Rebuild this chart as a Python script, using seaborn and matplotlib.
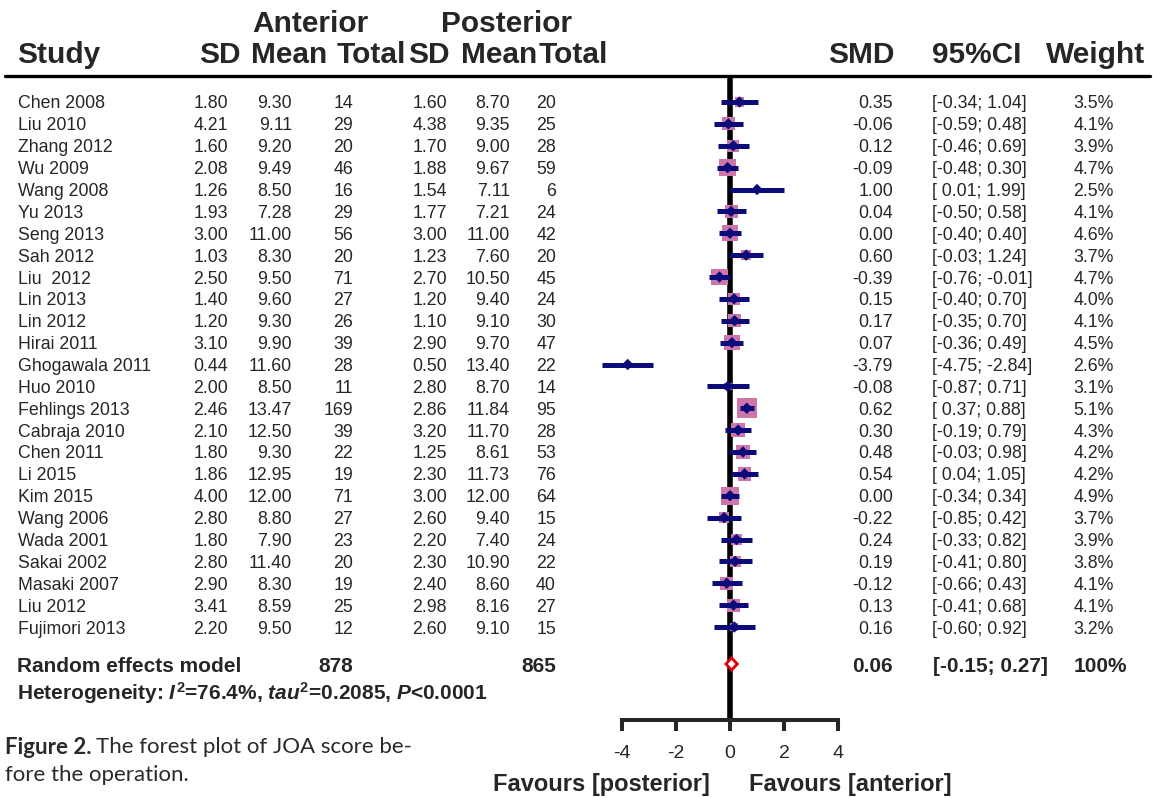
import numpy as np
import pandas as pd
import matplotlib
matplotlib.use("Agg")
import matplotlib.pyplot as plt
import matplotlib.transforms as mtransforms
import seaborn as sns

# study data
studies = ["Chen 2008", "Liu 2010", "Zhang 2012", "Wu 2009", "Wang 2008", "Yu 2013",
           "Seng 2013", "Sah 2012", "Liu  2012", "Lin 2013", "Lin 2012", "Hirai 2011",
           "Ghogawala 2011", "Huo 2010", "Fehlings 2013", "Cabraja 2010", "Chen 2011",
           "Li 2015", "Kim 2015", "Wang 2006", "Wada 2001", "Sakai 2002", "Masaki 2007",
           "Liu 2012", "Fujimori 2013"]
sd_ant = [1.80, 4.21, 1.60, 2.08, 1.26, 1.93, 3.00, 1.03, 2.50, 1.40, 1.20, 3.10, 0.44,
          2.00, 2.46, 2.10, 1.80, 1.86, 4.00, 2.80, 1.80, 2.80, 2.90, 3.41, 2.20]
mean_ant = [9.30, 9.11, 9.20, 9.49, 8.50, 7.28, 11.00, 8.30, 9.50, 9.60, 9.30, 9.90, 11.60,
            8.50, 13.47, 12.50, 9.30, 12.95, 12.00, 8.80, 7.90, 11.40, 8.30, 8.59, 9.50]
n_ant = [14, 29, 20, 46, 16, 29, 56, 20, 71, 27, 26, 39, 28, 11, 169, 39, 22, 19, 71, 27,
         23, 20, 19, 25, 12]
sd_post = [1.60, 4.38, 1.70, 1.88, 1.54, 1.77, 3.00, 1.23, 2.70, 1.20, 1.10, 2.90, 0.50,
           2.80, 2.86, 3.20, 1.25, 2.30, 3.00, 2.60, 2.20, 2.30, 2.40, 2.98, 2.60]
mean_post = [8.70, 9.35, 9.00, 9.67, 7.11, 7.21, 11.00, 7.60, 10.50, 9.40, 9.10, 9.70, 13.40,
             8.70, 11.84, 11.70, 8.61, 11.73, 12.00, 9.40, 7.40, 10.90, 8.60, 8.16, 9.10]
n_post = [20, 25, 28, 59, 6, 24, 42, 20, 45, 24, 30, 47, 22, 14, 95, 28, 53, 76, 64, 15,
          24, 22, 40, 27, 15]
smd = [0.35, -0.06, 0.12, -0.09, 1.00, 0.04, 0.00, 0.60, -0.39, 0.15, 0.17, 0.07, -3.79,
       -0.08, 0.62, 0.30, 0.48, 0.54, 0.00, -0.22, 0.24, 0.19, -0.12, 0.13, 0.16]
ci_low = [-0.34, -0.59, -0.46, -0.48, 0.01, -0.50, -0.40, -0.03, -0.76, -0.40, -0.35, -0.36,
          -4.75, -0.87, 0.37, -0.19, -0.03, 0.04, -0.34, -0.85, -0.33, -0.41, -0.66, -0.41, -0.60]
ci_high = [1.04, 0.48, 0.69, 0.30, 1.99, 0.58, 0.40, 1.24, -0.01, 0.70, 0.70, 0.49, -2.84,
           0.71, 0.88, 0.79, 0.98, 1.05, 0.34, 0.42, 0.82, 0.80, 0.43, 0.68, 0.92]
weight = [3.5, 4.1, 3.9, 4.7, 2.5, 4.1, 4.6, 3.7, 4.7, 4.0, 4.1, 4.5, 2.6, 3.1, 5.1, 4.3,
          4.2, 4.2, 4.9, 3.7, 3.9, 3.8, 4.1, 4.1, 3.2]

# pooled (random effects) result
total_ant, total_post = 878, 865
pooled_smd, pooled_low, pooled_high = 0.06, -0.15, 0.27
heterogeneity = r"Heterogeneity: $I^2$=76.4%, $tau^2$=0.2085, $P$<0.0001"
x_ticks = [-4, -2, 0, 2, 4]

df = pd.DataFrame({"study": studies, "smd": smd, "low": ci_low, "high": ci_high,
                   "weight": weight})
df["row"] = np.arange(len(df))

sns.set_style("white")
plt.rcParams["font.family"] = ["Liberation Sans", "DejaVu Sans"]
plt.rcParams["mathtext.fontset"] = "custom"
plt.rcParams["mathtext.it"] = "Liberation Sans:bold:italic"
plt.rcParams["mathtext.rm"] = "Liberation Sans:bold"
plt.rcParams["mathtext.bf"] = "Liberation Sans:bold"

W, H = 1153, 798
PX = 27.0      # pixels per SMD unit
ROW = 21.875   # pixels per study row
fig = plt.figure(figsize=(W / 100, H / 100), dpi=100)
ax = fig.add_axes([0, 0, 1, 1])
ax.set_xlim(-730 / PX, (W - 730) / PX)
ax.set_ylim((H - 102) / ROW, -102 / ROW)

def ry(px):
    return (px - 102) / ROW

axis_y = ry(720)
sum_y = ry(664)
navy = "#0B0B7A"

# zero line and header rule
ax.vlines(0, ry(78), axis_y, color="black", lw=4, zorder=1)
ax.axhline(ry(76), xmin=5 / W, xmax=1150 / W, color="black", lw=2.4)

# weighted squares, CI bars and point estimates
side_px = 20 * (df["weight"] / 5.1) ** 2
sns.scatterplot(data=df, x="smd", y="row", marker="s", s=(side_px * 0.72) ** 2,
                color="#CE76AA", edgecolor="none", legend=False, zorder=2, ax=ax)
ax.hlines(df["row"], df["low"], df["high"], color=navy, lw=3.6, zorder=3)
sns.scatterplot(data=df, x="smd", y="row", marker="D", s=34, color=navy,
                edgecolor="none", legend=False, zorder=4, ax=ax)

# pooled diamond
ax.fill([pooled_low, pooled_smd, pooled_high, pooled_smd, pooled_low],
        [sum_y, sum_y - 0.28, sum_y, sum_y + 0.28, sum_y],
        facecolor="white", edgecolor="#E00000", lw=2, zorder=5)

# x axis as the bottom spine
for s in ["left", "right", "top"]:
    ax.spines[s].set_visible(False)
ax.spines["bottom"].set_position(("data", axis_y))
ax.spines["bottom"].set_bounds(x_ticks[0], x_ticks[-1])
ax.spines["bottom"].set_linewidth(2.9)
ax.set_xticks(x_ticks)
ax.set_xticklabels([str(t) for t in x_ticks])
ax.set_yticks([])
ax.tick_params(axis="x", direction="out", length=8, width=2.9, pad=10, labelsize=14,
               bottom=True)
ax.set_xlabel("")
ax.set_ylabel("")

tr = mtransforms.blended_transform_factory(fig.transFigure, ax.transData)

def put(px, y, s, ha="left", **kw):
    ax.text(px / W, y, s, ha=ha, transform=tr, clip_on=False, **kw)

# header
hdr = dict(fontsize=21.5, fontweight="bold", va="baseline")
put(310, ry(32), "Anterior", ha="center", **hdr)
put(507, ry(32), "Posterior", ha="center", **hdr)
put(17, ry(63), "Study", **hdr)
for px, lab in [(220, "SD"), (289, "Mean"), (371, "Total"), (429, "SD"), (499, "Mean"),
                (573, "Total"), (861, "SMD"), (977, "95%CI"), (1096, "Weight")]:
    put(px, ry(63), lab, ha="center", **hdr)

# study rows
body = dict(fontsize=12.8, va="center_baseline")
for i in range(len(studies)):
    put(18, i, studies[i], **body)
    put(228, i, f"{sd_ant[i]:.2f}", ha="right", **body)
    put(292, i, f"{mean_ant[i]:.2f}", ha="right", **body)
    put(353, i, f"{n_ant[i]}", ha="right", **body)
    put(447, i, f"{sd_post[i]:.2f}", ha="right", **body)
    put(510, i, f"{mean_post[i]:.2f}", ha="right", **body)
    put(556, i, f"{n_post[i]}", ha="right", **body)
    put(893, i, f"{smd[i]:.2f}", ha="right", **body)
    lo = f"{ci_low[i]:.2f}" if ci_low[i] < 0 else f" {ci_low[i]:.2f}"
    put(932, i, f"[{lo}; {ci_high[i]:.2f}]", **body)
    put(1114, i, f"{weight[i]:.1f}%", ha="right", **body)

# pooled row
bold = dict(fontsize=15, fontweight="bold", va="center_baseline")
put(17, sum_y, "Random effects model", **bold)
put(353, sum_y, f"{total_ant}", ha="right", **bold)
put(556, sum_y, f"{total_post}", ha="right", **bold)
put(893, sum_y, f"{pooled_smd:.2f}", ha="right", **bold)
put(933, sum_y, f"[{pooled_low:.2f}; {pooled_high:.2f}]", **bold)
put(1127, sum_y, "100%", ha="right", **bold)
put(17, ry(690), heterogeneity, **bold)

# favours labels
fav = dict(fontsize=17, fontweight="bold", va="center_baseline")
put(601, ry(782), "Favours [posterior]", ha="center", **fav)
put(850, ry(782), "Favours [anterior]", ha="center", **fav)

# caption
cap = dict(fontsize=16, va="center_baseline", color="#2a2a2a", family="Lato")
put(5, ry(745), "Figure 2.", fontweight="bold", **cap)
put(96, ry(745), "The forest plot of JOA score be-", **cap)
put(5, ry(773), "fore the operation.", **cap)

fig.savefig("out.png", dpi=100, facecolor="white")
